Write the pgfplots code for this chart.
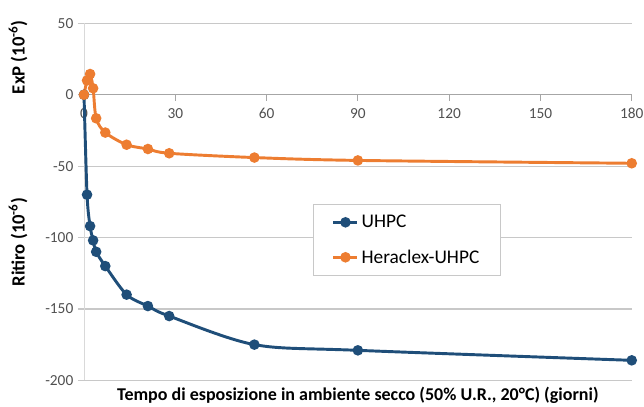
\documentclass[border=0pt]{standalone}
\usepackage{pgfplots}
\pgfplotsset{compat=1.18}
\usepackage{fontspec}
\setmainfont{Carlito}
\definecolor{ublue}{HTML}{1F4E79}
\definecolor{uorange}{HTML}{ED7D31}
\definecolor{tickgray}{HTML}{505050}
\definecolor{gridgray}{HTML}{C8C8C8}
\definecolor{axgray}{HTML}{A6A6A6}
\begin{document}
\begin{tikzpicture}
\path[use as bounding box] (-63pt,-20pt) rectangle (420pt,285.25pt);
\begin{axis}[
  at={(0pt,0pt)}, anchor=south west,
  scale only axis, width=410.8pt, height=267.75pt,
  xmin=0, xmax=180, ymin=-200, ymax=50,
  axis x line=middle, axis y line=left,
  axis line style={-},
  x axis line style={draw=axgray, line width=0.9pt},
  y axis line style={draw=gridgray!70, line width=0.6pt},
  xtick={0,30,60,90,120,150,180},
  ytick={-200,-150,-100,-50,0,50},
  tick align=outside,
  x tick style={draw=axgray, line width=0.8pt},
  y tick style={draw=gridgray, line width=0.9pt},
  major tick length=4.5pt,
  hide obscured x ticks=false, hide obscured y ticks=false,
  ymajorgrids, grid style={draw=gridgray, line width=0.9pt},
  /pgf/number format/assume math mode=true,
  tick label style={font=\fontsize{11.5}{13}\selectfont, text=tickgray},
  x tick label style={yshift=-2pt},
  clip=false,
  legend style={at={(rel axis cs:0.418,0.494)}, anchor=north west,
    draw=gridgray, fill=white, line width=0.6pt,
    inner xsep=14pt, inner ysep=6pt, row sep=11pt,
    font=\fontsize{14.5}{16}\selectfont, cells={anchor=west}},
  legend cell align=left,
  legend image code/.code={\draw[#1, mark repeat=2, mark phase=2] plot coordinates {(0pt,0pt) (9pt,0pt) (18pt,0pt)};},
]
\addplot[ublue, line width=2.2pt, smooth, mark=*, mark size=2.8pt, mark options={solid}]
 coordinates {(0,0) (1,-70) (2,-92) (3,-102) (4,-110) (7,-120) (14,-140) (21,-148) (28,-155) (56,-175) (90,-179) (180,-186)};
\addlegendentry{UHPC}
\addplot[uorange, line width=2.2pt, smooth, mark=*, mark size=2.8pt, mark options={solid}]
 coordinates {(0,0) (1,10) (2,14.5) (3,4.5) (4,-16.5) (7,-26.5) (14,-35) (21,-38) (28,-41) (56,-44) (90,-46) (180,-48)};
\addlegendentry{Heraclex-UHPC}
\node[rotate=90, font=\bfseries\fontsize{14}{16}\selectfont] at ([xshift=-49.5pt]rel axis cs:0,0.905) {ExP (10\textsuperscript{-6})};
\node[rotate=90, font=\bfseries\fontsize{14}{16}\selectfont] at ([xshift=-49.5pt]rel axis cs:0,0.387) {Ritiro (10\textsuperscript{-6})};
\node[font=\bfseries\fontsize{13.5}{15}\selectfont] at ([yshift=-11.5pt]rel axis cs:0.5,0) {Tempo di esposizione in ambiente secco (50\% U.R., 20°C) (giorni)};
\end{axis}
\end{tikzpicture}
\end{document}
